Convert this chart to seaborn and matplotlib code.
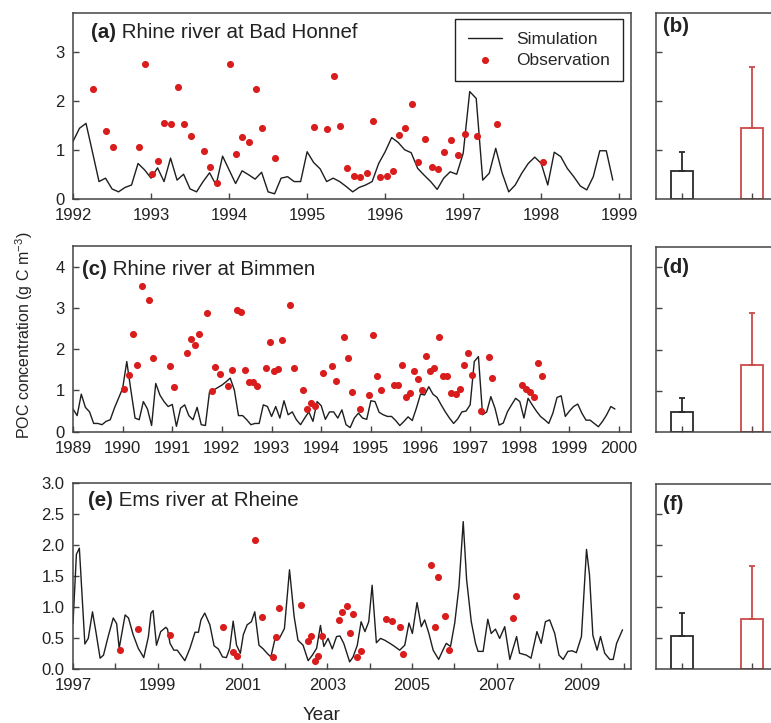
import numpy as np
import seaborn as sns
import matplotlib
matplotlib.use('Agg')
import matplotlib.pyplot as plt

# (a) Rhine river at Bad Honnef - monthly simulation from Jan 1992
sim_a_start = 1992
sim_a = [1.17, 1.44, 1.54, 0.95, 0.35, 0.42, 0.20, 0.14, 0.23, 0.28, 0.72, 0.59,
         0.42, 0.63, 0.35, 0.83, 0.38, 0.50, 0.20, 0.14, 0.35, 0.53, 0.28, 0.87,
         0.59, 0.31, 0.57, 0.49, 0.40, 0.54, 0.14, 0.10, 0.42, 0.45, 0.35, 0.35,
         0.96, 0.74, 0.61, 0.35, 0.42, 0.35, 0.25, 0.14, 0.23, 0.28, 0.35, 0.72,
         0.96, 1.25, 1.15, 1.00, 0.94, 0.62, 0.48, 0.35, 0.19, 0.42, 0.55, 0.50,
         0.93, 2.19, 2.05, 0.38, 0.52, 1.03, 0.52, 0.14, 0.28, 0.52, 0.72, 0.85,
         0.72, 0.28, 0.95, 0.86, 0.62, 0.45, 0.26, 0.18, 0.45, 0.98, 0.98, 0.38]
obs_a_year = [1992.25, 1992.42, 1992.51, 1992.84, 1992.92,
              1993.01, 1993.09, 1993.17, 1993.26, 1993.34, 1993.42, 1993.51, 1993.68, 1993.76, 1993.84,
              1994.01, 1994.09, 1994.17, 1994.26, 1994.34, 1994.42, 1994.59,
              1995.09, 1995.26, 1995.34, 1995.42, 1995.51, 1995.60, 1995.68, 1995.77, 1995.85, 1995.93,
              1996.02, 1996.10, 1996.18, 1996.26, 1996.35, 1996.42, 1996.51, 1996.60, 1996.68, 1996.76,
              1996.84, 1996.93, 1997.02, 1997.18, 1997.43, 1998.02]
obs_a = [2.24, 1.38, 1.06, 1.05, 2.75,
         0.50, 0.78, 1.54, 1.53, 2.28, 1.53, 1.28, 0.98, 0.65, 0.33,
         2.75, 0.92, 1.26, 1.15, 2.24, 1.45, 0.83,
         1.47, 1.43, 2.50, 1.49, 0.63, 0.46, 0.45, 0.52, 1.59, 0.45,
         0.46, 0.57, 1.30, 1.45, 1.94, 0.75, 1.22, 0.65, 0.60, 0.95,
         1.21, 0.90, 1.32, 1.28, 1.53, 0.76]

# (c) Rhine river at Bimmen - monthly simulation from Jan 1989
sim_c_start = 1989
sim_c = [0.55, 0.39, 0.91, 0.59, 0.48, 0.20, 0.20, 0.17, 0.25, 0.29, 0.57, 0.81,
         1.05, 1.70, 1.00, 0.33, 0.29, 0.73, 0.55, 0.15, 1.17, 0.89, 0.73, 0.61,
         0.66, 0.13, 0.57, 0.65, 0.39, 0.29, 0.59, 0.17, 0.15, 0.97, 1.01, 1.07,
         1.13, 1.21, 1.30, 1.01, 0.39, 0.39, 0.29, 0.17, 0.20, 0.20, 0.65, 0.61,
         0.37, 0.61, 0.33, 0.75, 0.41, 0.48, 0.29, 0.17, 0.33, 0.48, 0.25, 0.73,
         0.63, 0.30, 0.48, 0.48, 0.33, 0.53, 0.17, 0.10, 0.33, 0.45, 0.33, 0.30,
         0.75, 0.73, 0.47, 0.41, 0.37, 0.37, 0.27, 0.15, 0.25, 0.36, 0.27, 0.57,
         0.91, 0.89, 1.09, 0.91, 0.83, 0.65, 0.48, 0.33, 0.20, 0.31, 0.48, 0.50,
         0.65, 1.70, 1.82, 0.41, 0.48, 0.85, 0.57, 0.16, 0.21, 0.48, 0.65, 0.81,
         0.73, 0.33, 0.81, 0.65, 0.50, 0.37, 0.29, 0.20, 0.45, 0.83, 0.87, 0.37,
         0.50, 0.61, 0.67, 0.45, 0.28, 0.28, 0.20, 0.12, 0.25, 0.41, 0.61, 0.55]
obs_c_year = [1990.03, 1990.13, 1990.21, 1990.29, 1990.38, 1990.54, 1990.62, 1990.95,
              1991.04, 1991.29, 1991.37, 1991.46, 1991.54, 1991.70, 1991.80, 1991.87, 1991.96,
              1992.13, 1992.21, 1992.30, 1992.38, 1992.46, 1992.54, 1992.63, 1992.71, 1992.88, 1992.96,
              1993.05, 1993.13, 1993.21, 1993.38, 1993.46, 1993.63, 1993.71, 1993.79, 1993.87,
              1994.04, 1994.21, 1994.29, 1994.46, 1994.54, 1994.63, 1994.79, 1994.96,
              1995.04, 1995.12, 1995.21, 1995.46, 1995.54, 1995.63, 1995.71, 1995.79, 1995.87, 1995.95,
              1996.04, 1996.12, 1996.20, 1996.28, 1996.37, 1996.45, 1996.54, 1996.62, 1996.71, 1996.79,
              1996.88, 1996.96, 1997.04, 1997.21, 1997.38, 1997.45,
              1998.04, 1998.12, 1998.20, 1998.29, 1998.37, 1998.45]
obs_c = [1.04, 1.38, 2.37, 1.62, 3.54, 3.20, 1.79, 1.60,
         1.09, 1.90, 2.24, 2.11, 2.36, 2.88, 0.99, 1.56, 1.40,
         1.11, 1.50, 2.96, 2.89, 1.49, 1.21, 1.21, 1.11, 1.55, 2.18,
         1.46, 1.52, 2.22, 3.08, 1.55, 1.01, 0.54, 0.69, 0.62,
         1.43, 1.58, 1.23, 2.29, 1.79, 0.95, 0.55, 0.89,
         2.34, 1.35, 1.00, 1.13, 1.13, 1.61, 0.85, 0.94, 1.48, 1.27,
         1.00, 1.84, 1.46, 1.54, 2.29, 1.34, 1.34, 0.93, 0.92, 1.04,
         1.62, 1.90, 1.37, 0.51, 1.81, 1.31,
         1.13, 1.03, 0.97, 0.83, 1.67, 1.34]

# (e) Ems river at Rheine - simulation read at its vertices
sim_e_year = [1997.00, 1997.08, 1997.15, 1997.28, 1997.36, 1997.46, 1997.54, 1997.64, 1997.72, 1997.83,
              1997.95, 1998.03, 1998.09, 1998.23, 1998.31, 1998.42, 1998.54, 1998.67, 1998.78, 1998.84,
              1998.89, 1998.97, 1999.07, 1999.19, 1999.23, 1999.29, 1999.38, 1999.46, 1999.64, 1999.76,
              1999.88, 1999.96, 2000.02, 2000.11, 2000.23, 2000.33, 2000.43, 2000.53, 2000.62, 2000.70,
              2000.78, 2000.86, 2000.95, 2001.02, 2001.11, 2001.21, 2001.29, 2001.39, 2001.49, 2001.58,
              2001.67, 2001.77, 2001.87, 2001.99, 2002.11, 2002.22, 2002.31, 2002.43, 2002.55, 2002.65,
              2002.75, 2002.84, 2002.92, 2003.02, 2003.12, 2003.22, 2003.30, 2003.39, 2003.53, 2003.61,
              2003.71, 2003.80, 2003.89, 2003.98, 2004.06, 2004.16, 2004.26, 2004.36, 2004.48, 2004.59,
              2004.71, 2004.83, 2004.93, 2005.01, 2005.12, 2005.22, 2005.30, 2005.40, 2005.50, 2005.63,
              2005.73, 2005.81, 2005.91, 2006.01, 2006.11, 2006.21, 2006.29, 2006.40, 2006.50, 2006.56,
              2006.68, 2006.79, 2006.87, 2006.97, 2007.07, 2007.19, 2007.31, 2007.47, 2007.54, 2007.70,
              2007.81, 2007.95, 2008.05, 2008.15, 2008.25, 2008.37, 2008.47, 2008.57, 2008.68, 2008.78,
              2008.88, 2009.00, 2009.12, 2009.19, 2009.27, 2009.37, 2009.45, 2009.55, 2009.67, 2009.75,
              2009.83, 2009.97]
sim_e = [0.73, 1.85, 1.95, 0.40, 0.49, 0.92, 0.60, 0.17, 0.22, 0.52,
         0.82, 0.73, 0.33, 0.87, 0.82, 0.55, 0.33, 0.18, 0.52, 0.90,
         0.94, 0.38, 0.60, 0.67, 0.64, 0.41, 0.30, 0.30, 0.13, 0.33,
         0.59, 0.59, 0.79, 0.90, 0.71, 0.37, 0.32, 0.19, 0.18, 0.33,
         0.77, 0.38, 0.25, 0.55, 0.71, 0.76, 0.92, 0.38, 0.32, 0.25,
         0.19, 0.49, 0.49, 0.65, 1.60, 0.84, 0.46, 0.38, 0.13, 0.22,
         0.33, 0.70, 0.36, 0.49, 0.32, 0.52, 0.53, 0.41, 0.11, 0.19,
         0.38, 0.76, 0.60, 0.76, 1.35, 0.42, 0.49, 0.46, 0.41, 0.36,
         0.30, 0.38, 0.74, 0.57, 1.07, 0.68, 0.79, 0.57, 0.30, 0.15,
         0.30, 0.41, 0.36, 0.74, 1.33, 2.38, 1.44, 0.76, 0.41, 0.28,
         0.28, 0.80, 0.57, 0.64, 0.49, 0.68, 0.15, 0.52, 0.25, 0.22,
         0.17, 0.60, 0.41, 0.76, 0.79, 0.57, 0.22, 0.15, 0.28, 0.29,
         0.26, 0.52, 1.93, 1.52, 0.54, 0.30, 0.52, 0.25, 0.15, 0.15,
         0.41, 0.63]
obs_e_year = [1998.12, 1998.54, 1999.29, 2000.55, 2000.78, 2000.88,
              2001.29, 2001.47, 2001.71, 2001.79, 2001.87,
              2002.37, 2002.54, 2002.62, 2002.72, 2002.79, 2002.88,
              2003.28, 2003.36, 2003.46, 2003.54, 2003.62, 2003.71, 2003.80,
              2004.38, 2004.54, 2004.71, 2004.80,
              2005.46, 2005.55, 2005.62, 2005.79, 2005.88, 2007.38, 2007.46]
obs_e = [0.31, 0.64, 0.55, 0.68, 0.27, 0.21,
         2.08, 0.84, 0.19, 0.52, 0.98,
         1.03, 0.45, 0.53, 0.12, 0.21, 0.53,
         0.79, 0.91, 1.01, 0.58, 0.88, 0.19, 0.29,
         0.81, 0.77, 0.68, 0.23,
         1.68, 0.67, 1.49, 0.85, 0.31, 0.82, 1.18]

# (b), (d), (f) mean and upper error (mean + sd)
bar_groups = ['Simulation', 'Observation']
bar_mean_b = [0.57, 1.45]
bar_top_b = [0.96, 2.69]
bar_mean_d = [0.50, 1.64]
bar_top_d = [0.83, 2.90]
bar_mean_f = [0.53, 0.80]
bar_top_f = [0.91, 1.67]

line_col = '#1e1e1e'
dot_col = '#d91c1c'
bar_cols = ['#2a2a2a', '#cc4a4a']
spine_col = '#444444'

sns.set_theme(style='ticks')
plt.rcParams['font.family'] = ['Liberation Sans', 'DejaVu Sans']
plt.rcParams['mathtext.fontset'] = 'custom'
plt.rcParams['mathtext.rm'] = 'Liberation Sans'
plt.rcParams['mathtext.it'] = 'Liberation Sans:italic'
plt.rcParams['mathtext.bf'] = 'Liberation Sans:bold'

W, H = 771, 723
fig = plt.figure(figsize=(W / 100, H / 100), dpi=100)


def box(l, t, r, b):
    return [l / W, 1 - b / H, (r - l) / W, (b - t) / H]


def style(ax):
    for s in ax.spines.values():
        s.set_color(spine_col)
        s.set_linewidth(1.1)
    ax.tick_params(direction='in', length=4.5, width=1, color=spine_col,
                   labelcolor='#222222', labelsize=12,
                   top=False, right=False)
    ax.tick_params(axis='x', pad=7)
    ax.tick_params(axis='y', pad=6)


def title(ax, x, y, tag, name):
    t = ax.text(x, y, tag, transform=ax.transAxes, fontsize=14.8,
                fontweight='bold', va='center', color='#222222')
    ax.annotate(' ' + name, xy=(1, 0.5), xycoords=t, va='center',
                fontsize=14.8, color='#222222')


def series(ax, sx, sy, ox, oy, legend=False):
    sns.lineplot(x=sx, y=sy, ax=ax, color=line_col, lw=1.0,
                 label='Simulation' if legend else None, legend=False)
    sns.scatterplot(x=ox, y=oy, ax=ax, color=dot_col, s=26, linewidth=0,
                    label='Observation' if legend else None, legend=False, zorder=3)


def bars(ax, means, tops, ylim, yticks, tag, ty):
    sns.barplot(x=bar_groups, y=means, hue=bar_groups, palette=bar_cols,
                fill=False, width=0.315, linewidth=1.3, ax=ax, legend=False)
    for i in range(2):
        ax.errorbar([i], [means[i]], yerr=[[0], [tops[i] - means[i]]],
                    fmt='none', ecolor=bar_cols[i], elinewidth=1.3,
                    capsize=2.2, capthick=1.3)
    ax.set_xlim(-0.376, 1.97)
    ax.set_ylim(*ylim)
    ax.set_yticks(yticks)
    ax.set_xticks([0, 1])
    ax.set_xticklabels(['', ''])
    ax.set_yticklabels([])
    ax.set_xlabel('')
    ax.set_ylabel('')
    style(ax)
    ax.text(0.045, ty, tag, transform=ax.transAxes, fontsize=14.8,
            fontweight='bold', va='center', color='#222222')


# panel (a)
ax_a = fig.add_axes(box(73, 13.3, 631, 198.7))
xa = sim_a_start + np.arange(len(sim_a)) / 12
series(ax_a, xa, sim_a, obs_a_year, obs_a, legend=True)
ax_a.set_xlim(1992, 1999.15)
ax_a.set_ylim(0, 3.79)
ax_a.set_xticks(range(1992, 2000))
ax_a.set_yticks([0, 1, 2, 3])
style(ax_a)
title(ax_a, 0.032, 0.894, '(a)', 'Rhine river at Bad Honnef')
ax_a.legend(loc='upper right', bbox_to_anchor=(0.986, 0.968), frameon=True,
            fancybox=False, edgecolor='#222222', framealpha=1, fontsize=12.5,
            handlelength=2.0, borderpad=0.75, labelspacing=0.3,
            handletextpad=0.8, borderaxespad=0)
ax_a.get_legend().get_frame().set_linewidth(1.0)

# panel (c)
ax_c = fig.add_axes(box(73, 246, 631, 431.7))
xc = sim_c_start + np.arange(len(sim_c)) / 12
series(ax_c, xc, sim_c, obs_c_year, obs_c)
ax_c.set_xlim(1989, 2000.24)
ax_c.set_ylim(0, 4.5)
ax_c.set_xticks(range(1989, 2001))
ax_c.set_yticks([0, 1, 2, 3, 4])
style(ax_c)
title(ax_c, 0.017, 0.876, '(c)', 'Rhine river at Bimmen')

# panel (e)
ax_e = fig.add_axes(box(73, 483.3, 631, 668.7))
series(ax_e, sim_e_year, sim_e, obs_e_year, obs_e)
ax_e.set_xlim(1997, 2010.17)
ax_e.set_ylim(0, 3.0)
years_e = list(range(1997, 2011))
ax_e.set_xticks(years_e)
ax_e.set_xticklabels([str(y) if y % 2 == 1 else '' for y in years_e])
ax_e.set_yticks(np.arange(0, 3.01, 0.5))
ax_e.set_yticklabels([f'{v:.1f}' for v in np.arange(0, 3.01, 0.5)])
style(ax_e)
title(ax_e, 0.027, 0.905, '(e)', 'Ems river at Rheine')

# bar panels, partly cut at the right edge like the original
ax_b = fig.add_axes(box(656, 13.3, 820, 198.7))
bars(ax_b, bar_mean_b, bar_top_b, (0, 3.79), [1, 2, 3], '(b)', 0.93)
ax_d = fig.add_axes(box(656, 246.5, 820, 432.2))
bars(ax_d, bar_mean_d, bar_top_d, (0, 4.5), [1, 2, 3, 4], '(d)', 0.885)
ax_f = fig.add_axes(box(656, 483.5, 820, 668.9))
bars(ax_f, bar_mean_f, bar_top_f, (0, 3.0), [0.5, 1.0, 1.5, 2.0, 2.5], '(f)', 0.885)

fig.text(24 / W, 1 - 335 / H, 'POC concentration (g C m$^{-3}$)', rotation=90,
         ha='center', va='center', fontsize=11.5, color='#222222')
fig.text(322 / W, 1 - 715 / H, 'Year', ha='center', va='center',
         fontsize=13.5, color='#222222')

fig.savefig('out.png', dpi=100)
